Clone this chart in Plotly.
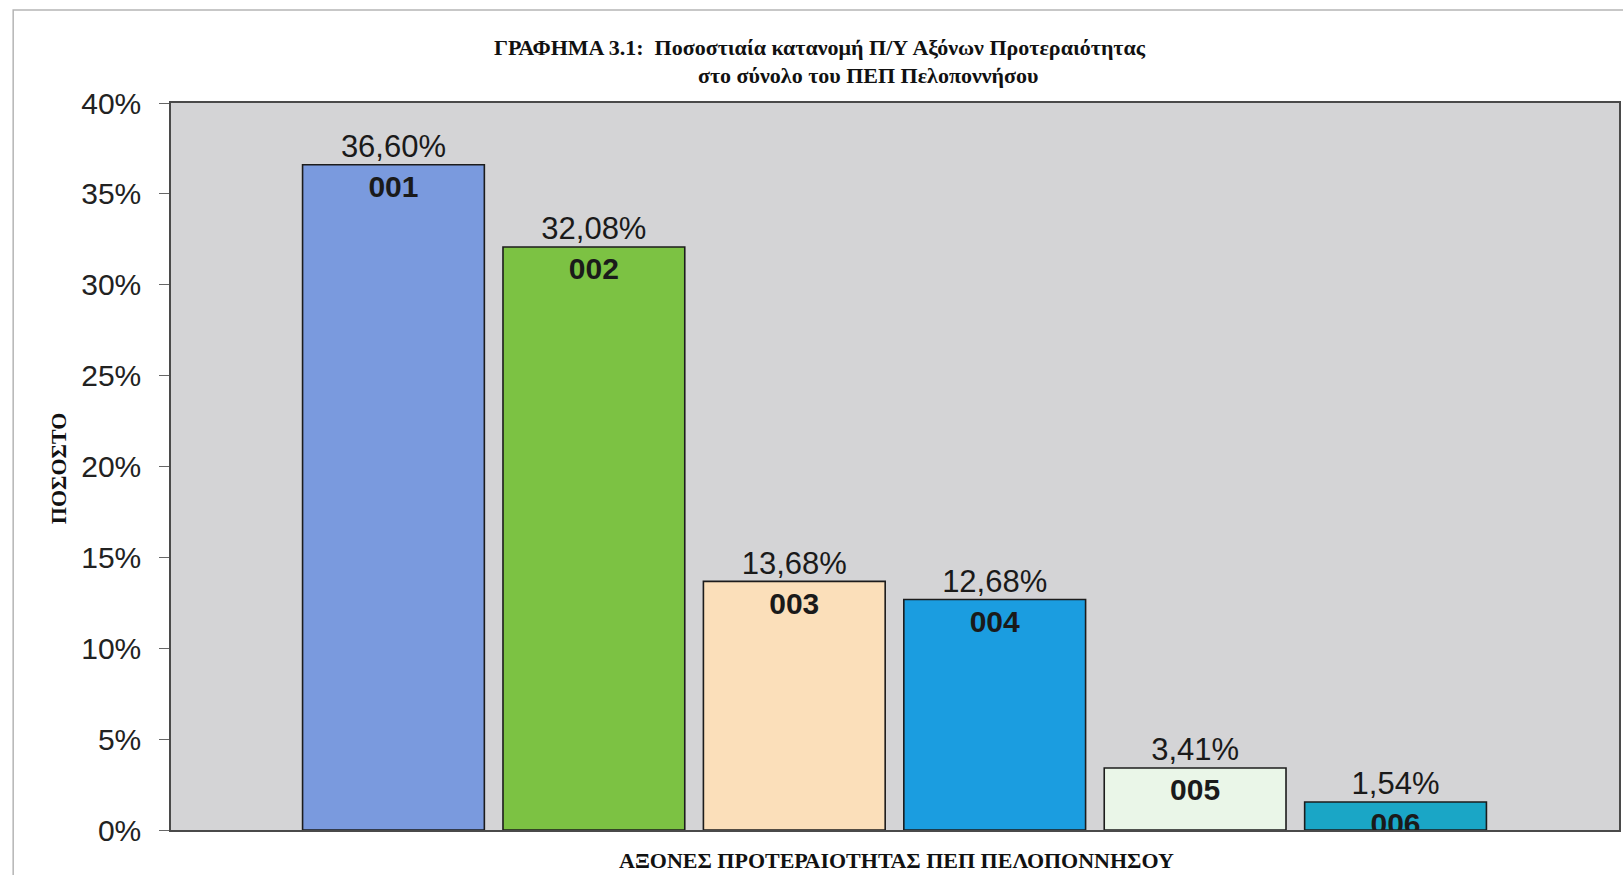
import plotly.graph_objects as go

# άξονες προτεραιότητας και ποσοστά
axones = ['001', '002', '003', '004', '005', '006']
pososta = [36.60, 32.08, 13.68, 12.68, 3.41, 1.54]
xromata = ['#7a9ade', '#7cc243', '#fbdfba', '#1b9de0', '#eaf6e8', '#1aa6c6']
y_ticks = [0, 5, 10, 15, 20, 25, 30, 35, 40]

etiketes = [f'{v:.2f}%'.replace('.', ',') for v in pososta]

fig = go.Figure()
fig.add_trace(go.Bar(x=axones, y=pososta, width=0.907,
                     marker=dict(color=xromata, line=dict(color='#1c1c1c', width=1.6)),
                     showlegend=False, hoverinfo='skip'))
# ποσοστό πάνω από κάθε στήλη
fig.add_trace(go.Scatter(x=axones, y=pososta, mode='text', text=etiketes,
                         textposition='top center', cliponaxis=True,
                         textfont=dict(family='Liberation Sans, Arial', size=31, color='#1a1a1a'),
                         showlegend=False, hoverinfo='skip'))
# κωδικός άξονα μέσα στη στήλη (αόρατο marker για απόσταση από την κορυφή)
fig.add_trace(go.Scatter(x=axones, y=pososta, mode='markers+text',
                         text=[f'<b>{a}</b>' for a in axones],
                         textposition='bottom center', cliponaxis=True,
                         marker=dict(size=14, opacity=0),
                         textfont=dict(family='Liberation Sans, Arial', size=30, color='#1a1a1a'),
                         showlegend=False, hoverinfo='skip'))

serif = 'Liberation Serif, Times New Roman'
titlos_font = dict(family=serif, size=22, color='#111')
fig.update_layout(
    width=1623, height=875,
    margin=dict(l=171, r=2, t=103, b=45),
    paper_bgcolor='white', plot_bgcolor='#d4d4d6',
    annotations=[
        dict(text='<b>ΓΡΑΦΗΜΑ 3.1:\u00a0\u00a0Ποσοστιαία κατανομή Π/Υ Αξόνων Προτεραιότητας</b>',
             x=0.4483, y=1.0770, xref='paper', yref='paper', showarrow=False,
             xanchor='center', yanchor='middle', font=titlos_font),
        dict(text='<b>στο σύνολο του ΠΕΠ Πελοποννήσου</b>',
             x=0.4814, y=1.0385, xref='paper', yref='paper', showarrow=False,
             xanchor='center', yanchor='middle', font=titlos_font),
        dict(text='<b>ΑΞΟΝΕΣ ΠΡΟΤΕΡΑΙΟΤΗΤΑΣ ΠΕΠ ΠΕΛΟΠΟΝΝΗΣΟΥ</b>',
             x=0.501, y=-0.0413, xref='paper', yref='paper', showarrow=False,
             xanchor='center', yanchor='middle', font=titlos_font),
        dict(text='<b>ΠΟΣΟΣΤΟ</b>', textangle=-90,
             x=-0.0772, y=0.498, xref='paper', yref='paper', showarrow=False,
             xanchor='center', yanchor='middle', font=titlos_font),
    ],
    shapes=[dict(type='rect', xref='paper', yref='paper', x0=-0.109, x1=1.2, y0=-0.3, y1=1.128,
                 line=dict(color='#b5b5b5', width=1.5), layer='below')],
)
fig.update_xaxes(range=[-1.11, 6.115], showticklabels=False, ticks='', showgrid=False,
                 showline=True, linecolor='#4a4a4a', linewidth=1.5, mirror=True, zeroline=False)
fig.update_yaxes(range=[0, 40], tickvals=y_ticks, ticktext=[f'{t}%' for t in y_ticks],
                 ticks='outside', ticklen=10,
                 tickcolor='#666', ticklabelstandoff=12, showgrid=False, zeroline=False,
                 showline=True, linecolor='#4a4a4a', linewidth=1.5, mirror=True,
                 tickfont=dict(family='Liberation Sans, Arial', size=30, color='#222'))

# χωρίς το περιθώριο του body ώστε το σχήμα να γεμίζει ακριβώς το παράθυρο
fig.write_html('out.html', config={'displayModeBar': False},
               post_script="document.body.style.margin='0';document.body.style.overflow='hidden';")
